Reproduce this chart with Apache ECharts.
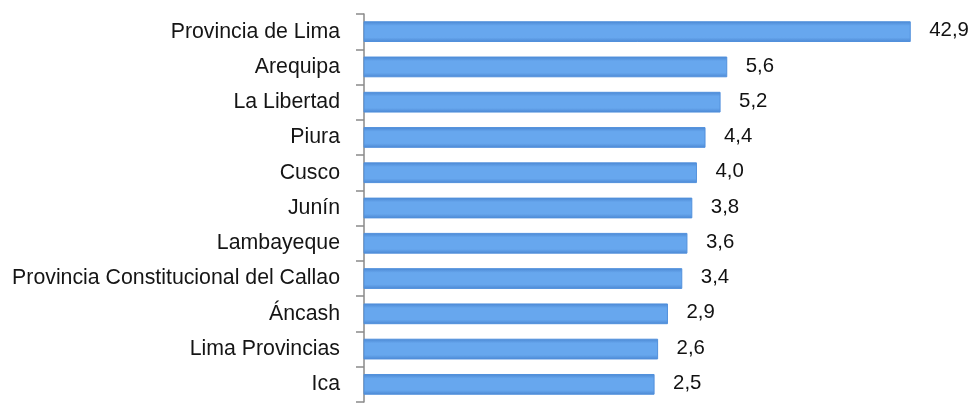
<!DOCTYPE html>
<html>
<head>
<meta charset="utf-8">
<script src="https://cdn.jsdelivr.net/npm/echarts@6/dist/echarts.min.js"></script>
<style>
  html, body { margin: 0; padding: 0; background: #ffffff; }
  #chart { width: 975px; height: 404px; }
</style>
</head>
<body>
<div id="chart"></div>
<script>
// Regions, top to bottom
const regions = [
  'Provincia de Lima',
  'Arequipa',
  'La Libertad',
  'Piura',
  'Cusco',
  'Junín',
  'Lambayeque',
  'Provincia Constitucional del Callao',
  'Áncash',
  'Lima Provincias',
  'Ica'
];
// Share per region (%)
const shares = [42.9, 5.6, 5.2, 4.4, 4.0, 3.8, 3.6, 3.4, 2.9, 2.6, 2.5];

// Logarithmic value axis range
const X_MIN = 0.1;
const X_MAX = 88;

const fmt = v => v.toFixed(1).replace('.', ',');

const chart = echarts.init(document.getElementById('chart'), null, { renderer: 'canvas' });

const barFill = new echarts.graphic.LinearGradient(0, 0, 0, 1, [
  { offset: 0, color: '#4b87d2' },
  { offset: 0.22, color: '#67a7ee' },
  { offset: 0.78, color: '#67a7ee' },
  { offset: 1, color: '#4b87d2' }
]);

chart.setOption({
  animation: false,
  backgroundColor: '#ffffff',
  grid: { left: 364, top: 14, height: 388, right: 0, containLabel: false },
  xAxis: {
    type: 'log',
    logBase: 10,
    min: X_MIN,
    max: X_MAX,
    show: false
  },
  yAxis: {
    type: 'category',
    inverse: true,
    data: regions,
    axisLine: { show: true, lineStyle: { color: '#8a8a8a', width: 1.5 } },
    axisTick: { show: true, length: 8, lineStyle: { color: '#8a8a8a', width: 1.5 } },
    axisLabel: {
      margin: 24,
      color: '#151515',
      fontFamily: 'Liberation Sans, Arial, sans-serif',
      fontSize: 21.3
    },
    splitLine: { show: false }
  },
  series: [{
    type: 'custom',
    encode: { x: 1, y: 0 },
    data: shares.map((v, i) => [i, v]),
    renderItem: function (params, api) {
      const cat = api.value(0);
      const v = api.value(1);
      const start = api.coord([X_MIN, cat]);
      const end = api.coord([v, cat]);
      const band = api.size([0, 1])[1];
      const h = band * 0.56;
      return {
        type: 'group',
        children: [{
          type: 'rect',
          shape: { x: start[0], y: end[1] - h / 2, width: end[0] - start[0], height: h },
          style: { fill: barFill, stroke: '#5190dc', lineWidth: 1 }
        }, {
          type: 'text',
          x: end[0] + 19,
          y: end[1] - 1,
          style: {
            text: fmt(v),
            fill: '#111111',
            font: '20.4px "Liberation Sans", Arial, sans-serif',
            verticalAlign: 'middle',
            align: 'left'
          }
        }]
      };
    }
  }]
});
</script>
</body>
</html>
